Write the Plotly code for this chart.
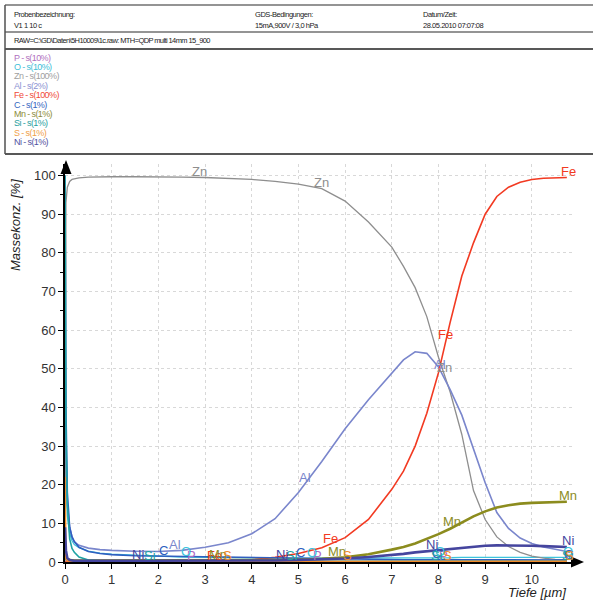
import numpy as np
import plotly.graph_objects as go

# ---------------- data ----------------
depth = [0, 0.02, 0.05, 0.1, 0.15, 0.2, 0.3, 0.5, 0.75, 1, 1.5, 2, 2.5, 3, 3.5, 4, 4.5,
         5, 5.5, 6, 6.5, 7, 7.25, 7.5, 7.75, 8, 8.25, 8.5, 8.75, 9, 9.25, 9.5, 9.75,
         10, 10.25, 10.5, 10.75]

p_vals = [2, 0.5, 0.3, 0.2, 0.2, 0.2, 0.2, 0.2, 0.2, 0.2, 0.2, 0.2, 0.2, 0.2, 0.2, 0.2, 0.2,
          0.2, 0.2, 0.2, 0.2, 0.2, 0.2, 0.2, 0.2, 0.2, 0.2, 0.2, 0.2, 0.2, 0.2, 0.2, 0.2,
          0.2, 0.2, 0.2, 0.2]
o_vals = [30, 20, 12, 7.5, 5.5, 4.5, 3.7, 2.8, 2.3, 2.0, 1.7, 1.5, 1.3, 1.2, 1.1, 1.0, 1.0,
          1.0, 1.0, 1.0, 1.0, 1.0, 1.0, 1.0, 1.1, 1.1, 1.1, 1.2, 1.2, 1.2, 1.2, 1.2, 1.2,
          1.2, 1.2, 1.2, 1.2]
zn_vals = [0, 93, 97, 98.5, 99, 99.2, 99.4, 99.6, 99.7, 99.7, 99.7, 99.7, 99.6, 99.5, 99.3, 99.0, 98.5,
           97.8, 96.6, 93.4, 88, 81.5, 76.5, 71, 63.5, 53, 44, 33, 18.5, 11, 6.5, 4, 2.5,
           1.5, 1.0, 0.7, 0.6]
al_vals = [60, 30, 15, 9, 6.5, 5.2, 4.3, 3.6, 3.2, 3.0, 2.8, 2.7, 3.0, 3.8, 5.0, 7.3, 11.2,
           18, 26, 34.5, 42, 48.8, 52.3, 54.4, 54, 50.5, 44.6, 38, 29.5, 20.5, 12.8, 8.7, 6.2,
           4.8, 3.9, 3.2, 2.7]
fe_vals = [0, 0, 0, 0, 0, 0, 0.05, 0.05, 0.05, 0.05, 0.05, 0.08, 0.1, 0.15, 0.3, 0.6, 1.2,
           2.2, 3.7, 6.3, 11, 18.8, 23.5, 30, 38.5, 49, 62, 74, 82.6, 90, 94.6, 97, 98.3,
           99, 99.3, 99.4, 99.5]
c_vals = [100, 40, 18, 9, 6.5, 5.3, 3.8, 2.7, 2.2, 1.9, 1.6, 1.5, 1.4, 1.3, 1.2, 1.1, 1.0,
          0.9, 0.8, 0.7, 0.6, 0.6, 0.6, 0.6, 0.6, 0.6, 0.5, 0.5, 0.5, 0.5, 0.5, 0.5, 0.5,
          0.5, 0.5, 0.5, 0.5]
mn_vals = [2, 1, 0.6, 0.5, 0.4, 0.4, 0.4, 0.4, 0.4, 0.4, 0.4, 0.4, 0.4, 0.4, 0.4, 0.4, 0.5,
           0.6, 0.8, 1.2, 2.0, 3.2, 3.9, 4.8, 5.9, 7.2, 8.6, 10.2, 11.8, 13.1, 14.1, 14.7, 15.1,
           15.3, 15.4, 15.5, 15.6]
si_vals = [100, 35, 15, 6, 3.5, 2.5, 1.3, 0.5, 0.3, 0.2, 0.2, 0.2, 0.2, 0.2, 0.2, 0.2, 0.2,
           0.2, 0.2, 0.2, 0.2, 0.2, 0.2, 0.2, 0.2, 0.2, 0.2, 0.2, 0.2, 0.2, 0.2, 0.2, 0.2,
           0.2, 0.2, 0.2, 0.2]
s_vals = [22, 1, 0.3, 0.1, 0.1, 0.1, 0.1, 0.1, 0.1, 0.1, 0.1, 0.1, 0.1, 0.1, 0.1, 0.1, 0.1,
          0.1, 0.1, 0.1, 0.1, 0.1, 0.1, 0.1, 0.1, 0.2, 0.2, 0.2, 0.2, 0.2, 0.2, 0.2, 0.2,
          0.2, 0.2, 0.2, 0.2]
ni_vals = [9, 3, 1, 0.5, 0.4, 0.3, 0.3, 0.3, 0.3, 0.3, 0.3, 0.3, 0.3, 0.3, 0.3, 0.3, 0.4,
           0.5, 0.7, 0.9, 1.3, 1.8, 2.1, 2.5, 2.8, 3.1, 3.4, 3.7, 4.0, 4.2, 4.3, 4.3, 4.3,
           4.2, 4.1, 4.0, 3.9]

names = ["P", "O", "Zn", "Al", "Fe", "C", "Mn", "Si", "S", "Ni"]
legend_texts = ["P - s(10%)", "O - s(10%)", "Zn - s(100%)", "Al - s(2%)", "Fe - s(100%)",
                "C - s(1%)", "Mn - s(1%)", "Si - s(1%)", "S - s(1%)", "Ni - s(1%)"]
label_depths = {
    "P": [2.72, 5.4, 8.1, 10.8],
    "O": [2.59, 5.3, 8.03, 10.78],
    "Zn": [2.89, 5.5, 8.12],
    "Al": [2.36, 5.14, 8.04],
    "Fe": [3.2, 5.68, 8.16, 10.78],
    "C": [2.1, 5.04, 7.95, 10.78],
    "Mn": [3.28, 5.83, 8.3, 10.78],
    "Si": [1.82, 4.86, 7.97, 10.78],
    "S": [3.49, 6.06, 8.2, 10.8],
    "Ni": [1.56, 4.65, 7.86, 10.78],
}
x_ticks = [0, 1, 2, 3, 4, 5, 6, 7, 8, 9, 10]
y_ticks = [0, 10, 20, 30, 40, 50, 60, 70, 80, 90, 100]

header_items = [
    ("Probenbezeichnung:", "V1 1 10 c"),
    ("GDS-Bedingungen:", "15mA,900V / 3,0 hPa"),
    ("Datum/Zeit:", "28.05.2010 07:07:08"),
]
raw_line = "RAW=C:\\GD\\Daten\\5H10009\\1c.raw: MTH=QDP multi 14mm 15_900"

# ---------------- styles ----------------
values = [p_vals, o_vals, zn_vals, al_vals, fe_vals, c_vals, mn_vals, si_vals, s_vals, ni_vals]
colors = ["#b068c4", "#3cc4dc", "#8e8e8e", "#7a86cc", "#f23a22", "#2f5fc0",
          "#8c8c1e", "#1fa3a3", "#f28c2a", "#45459e"]
legend_colors = ["#b070c0", "#40c0d8", "#a0a0a0", "#8c92d2", "#f04a38", "#3464c0",
                 "#8c8c3a", "#28a0a0", "#f0a048", "#5050a0"]
widths = [1.2, 1.3, 1.3, 1.6, 1.6, 1.6, 2.6, 1.6, 1.6, 2.6]

W, H = 593, 603
ML, MR, MT, MB = 65, 21, 164, 41
PW, PH = W - ML - MR, H - MT - MB
FONT = "Liberation Sans, Arial, sans-serif"
SMALL = "Liberation Sans, Arial, sans-serif"


def px(x):
    return (x - ML) / PW


def py(y):
    return (H - MB - y) / PH


def tight(text, ls):
    return f"<span style='letter-spacing:{ls}px'>{text}</span>"


fig = go.Figure()
for name, vals, col, w in zip(names, values, colors, widths):
    fig.add_trace(go.Scatter(x=depth, y=vals, mode="lines", name=name,
                             line=dict(color=col, width=w), showlegend=False,
                             hoverinfo="skip"))

annotations = []
# curve labels
for name, vals, col in zip(names, values, colors):
    for lx in label_depths[name]:
        ly = float(np.interp(lx, depth, vals))
        annotations.append(dict(x=lx, y=ly, xref="x", yref="y", text=name, showarrow=False,
                                xanchor="center", yanchor="middle", yshift=6,
                                font=dict(family=FONT, size=13, color=col)))

# axis titles
annotations.append(dict(x=px(15), y=py(225), xref="paper", yref="paper",
                        text="<i>Massekonz. [%]</i>", textangle=-90, showarrow=False,
                        xanchor="center", yanchor="middle",
                        font=dict(family=FONT, size=13, color="#222")))
annotations.append(dict(x=px(568), y=py(592), xref="paper", yref="paper",
                        text="<i>Tiefe [µm]</i>", showarrow=False,
                        xanchor="right", yanchor="middle",
                        font=dict(family=FONT, size=13, color="#222")))

# header texts
head_x = [12, 253, 421]
for hx, (t1, t2) in zip(head_x, header_items):
    annotations.append(dict(x=px(hx), y=py(14), xref="paper", yref="paper", text=tight(t1, -0.45),
                            showarrow=False, xanchor="left", yanchor="middle",
                            font=dict(family=SMALL, size=7.5, color="#222")))
    annotations.append(dict(x=px(hx), y=py(25), xref="paper", yref="paper", text=tight(t2, -0.45),
                            showarrow=False, xanchor="left", yanchor="middle",
                            font=dict(family=SMALL, size=7.5, color="#222")))
annotations.append(dict(x=px(12), y=py(41), xref="paper", yref="paper", text=tight(raw_line, -0.6),
                        showarrow=False, xanchor="left", yanchor="middle",
                        font=dict(family=SMALL, size=7.5, color="#222")))
for i, (lt, lc) in enumerate(zip(legend_texts, legend_colors)):
    annotations.append(dict(x=px(12), y=py(57.5 + 9.4 * i), xref="paper", yref="paper",
                            text=tight(lt, -0.6), showarrow=False, xanchor="left", yanchor="middle",
                            font=dict(family=SMALL, size=9, color=lc)))

shapes = []
# header frame lines
for yy, col in [(5, "#707070"), (32, "#707070"), (49, "#202020"), (154, "#202020")]:
    shapes.append(dict(type="line", xref="paper", yref="paper", x0=px(5), x1=px(600),
                       y0=py(yy), y1=py(yy), line=dict(color=col, width=1.5)))
shapes.append(dict(type="line", xref="paper", yref="paper", x0=px(5), x1=px(5),
                   y0=py(5), y1=py(154), line=dict(color="#505050", width=1.5)))
# axis arrows
shapes.append(dict(type="path", xref="paper", yref="paper",
                   path=f"M {px(66)},{py(160)} L {px(60.5)},{py(174)} L {px(71.5)},{py(174)} Z",
                   fillcolor="black", line=dict(color="black", width=0)))
shapes.append(dict(type="path", xref="paper", yref="paper",
                   path=f"M {px(584)},{py(562)} L {px(571)},{py(556.5)} L {px(571)},{py(567.5)} Z",
                   fillcolor="black", line=dict(color="black", width=0)))

fig.update_layout(
    width=W, height=H,
    margin=dict(l=ML, r=MR, t=MT, b=MB, pad=0),
    paper_bgcolor="white", plot_bgcolor="white",
    annotations=annotations, shapes=shapes,
    font=dict(family=FONT, size=13, color="#333"),
    xaxis=dict(range=[0, 10.86], tickvals=x_ticks, showgrid=True, gridcolor="#d8d8d8",
               griddash="dot", gridwidth=1, zeroline=False, showline=True,
               linecolor="black", linewidth=1.5, ticks="outside", ticklen=5,
               tickcolor="black", tickwidth=1,
               tickfont=dict(family=FONT, size=13, color="#333"),
               minor=dict(dtick=0.5, tick0=0, ticks="outside", ticklen=3,
                          tickcolor="black", showgrid=False)),
    yaxis=dict(range=[0, 103], tickvals=y_ticks, showgrid=True, gridcolor="#d8d8d8",
               griddash="dot", gridwidth=1, zeroline=False, showline=True,
               linecolor="black", linewidth=1.5, ticks="outside", ticklen=5,
               tickcolor="black", tickwidth=1,
               tickfont=dict(family=FONT, size=13, color="#333"),
               minor=dict(dtick=5, tick0=0, ticks="outside", ticklen=3,
                          tickcolor="black", showgrid=False)),
)

fig.write_html("out.html", config={"displayModeBar": False},
               post_script="document.body.style.margin='0';document.body.style.padding='0';")
